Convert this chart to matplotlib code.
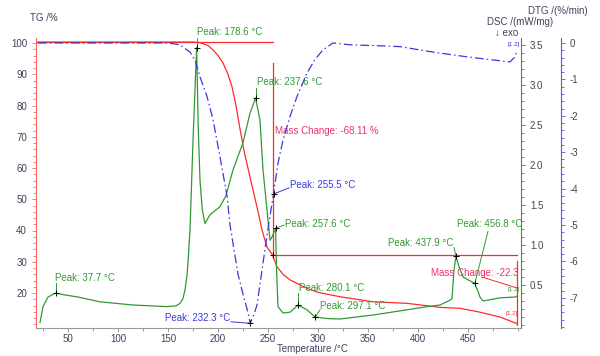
import numpy as np
import matplotlib
matplotlib.use('Agg')
import matplotlib.pyplot as plt
from matplotlib.ticker import MultipleLocator

plt.rcParams['font.family'] = ['Liberation Sans', 'DejaVu Sans']
plt.rcParams['axes.unicode_minus'] = False

# TG curve, mass in %
tg_temp = [20, 100, 175, 182, 190, 195, 200, 205, 210, 214, 218, 222, 226, 232, 239, 244, 249, 254,
           259, 265, 272, 289, 300, 322, 355, 389, 422, 442, 460, 482, 499]
tg_val = [100.3, 100.3, 100.3, 100.1, 99.2, 97.8, 96.0, 93.6, 90.0, 86.0, 80.0, 72.5, 65.5, 57.1, 47.5,
          40.2, 34.7, 32.5, 28.4, 26.0, 24.2, 21.5, 20.2, 18.8, 17.2, 16.7, 15.4, 15.1, 14.0, 12.3, 10.2]

# DSC curve, mW/mg
dsc_temp = [22, 25, 30, 37.7, 45, 60, 82, 115, 149, 158, 162, 165, 167, 169, 170, 172, 175, 178.6,
            180.3, 182, 184.3, 187, 192, 202, 208, 215, 225, 232, 237.6, 242, 245, 249, 252, 254,
            257.6, 258.5, 260, 265, 272, 280.1, 289, 297.1, 310, 322, 355, 389, 409, 422, 432, 434,
            436, 437.9, 441, 445, 456.8, 460, 462, 465, 482, 497, 499]
dsc_val = [0.03, 0.23, 0.35, 0.40, 0.38, 0.35, 0.29, 0.25, 0.23, 0.24, 0.27, 0.33, 0.44, 0.62, 0.78,
           1.19, 2.30, 3.47, 2.44, 1.81, 1.44, 1.27, 1.38, 1.48, 1.62, 1.94, 2.28, 2.65, 2.84, 2.56,
           1.94, 1.44, 1.06, 1.10, 1.21, 0.70, 0.23, 0.15, 0.16, 0.25, 0.19, 0.10, 0.08, 0.075, 0.125,
           0.19, 0.23, 0.25, 0.31, 0.33, 0.69, 0.86, 0.73, 0.60, 0.52, 0.42, 0.35, 0.30, 0.34, 0.35, 0.36]

# DTG curve, %/min
dtg_temp = [20, 100, 150, 162, 172, 177, 182, 189, 195, 202, 209, 212, 220, 225, 229, 232.3, 236, 239,
            245, 250, 255.5, 260, 265, 272, 279, 289, 297, 305, 315, 332, 365, 382, 415, 449, 470,
            492, 497, 499]
dtg_val = [0.0, 0.0, 0.0, -0.05, -0.25, -0.47, -0.93, -1.47, -2.1, -3.13, -4.2, -5.0, -6.35, -6.9,
           -7.3, -7.7, -7.45, -7.2, -6.05, -5.1, -4.15, -3.3, -2.67, -2.02, -1.47, -0.83, -0.45, -0.19,
           0.0, -0.05, -0.08, -0.1, -0.25, -0.38, -0.45, -0.52, -0.38, -0.19]

dsc_peaks = [37.7, 178.6, 237.6, 257.6, 280.1, 297.1, 437.9, 456.8]
dtg_peaks = [232.3, 255.5]
mass_steps = [255, 499]
mass_changes = [-68.11, -22.3]

red = '#ff2a2a'
red_txt = '#ee3366'
green = '#339933'
blue = '#3838e0'
lab = '#4a3c5e'

fig = plt.figure(figsize=(6, 3.56), dpi=100)
ax = fig.add_axes([36/600, 28/356, 485/600, 290/356])
ax2 = ax.twinx()
ax3 = ax.twinx()

ax.set_xlim(18, 503)
ax.set_ylim(8.8, 101.6)
ax2.set_ylim(-0.0375, 3.59)
ax3.set_ylim(-7.83, 0.137)

# curves
ax2.plot(dsc_temp, dsc_val, color=green, lw=0.9)
ax3.plot(dtg_temp, dtg_val, color=blue, lw=0.9, dashes=(7, 2.5, 1.2, 2.5))
ax.plot(tg_temp, tg_val, color=red, lw=0.9)

# mass change construction lines
top = tg_val[0]
lvl1 = top + mass_changes[0]
lvl2 = lvl1 + mass_changes[1]
ax.plot([18, mass_steps[0]], [top, top], color=red, lw=0.9)
ax.plot([mass_steps[0], mass_steps[0]], [93.5, lvl1], color=red, lw=0.9)
ax.plot([mass_steps[0], mass_steps[1]], [lvl1, lvl1], color=red, lw=0.9)
ax.plot([mass_steps[1], mass_steps[1]], [30.3, lvl2], color=red, lw=0.9)
ax.plot(mass_steps[0], lvl1, '+', color='k', ms=5, mew=0.7)
ax.text(257, 71.8, f'Mass Change: {mass_changes[0]} %', color=red_txt, fontsize=7, va='center')
ax.text(413, 26.4, f'Mass Change: {mass_changes[1]}', color=red_txt, fontsize=7, va='center')
ax.plot([464, 499], [25.1, 21.6], color=red, lw=0.7)

# DSC peak labels: text x, text y, alignment, leader end
green_pos = [(37, 0.59, 'left', 37.7, 0.525),
             (179, 3.66, 'left', 178.6, 3.62),
             (239, 3.04, 'left', 237.6, 2.97),
             (267, 1.26, 'left', 266, 1.25),
             (281, 0.46, 'left', 280.1, 0.40),
             (302, 0.24, 'left', 302, 0.19),
             (435, 1.02, 'right', 436, 0.97),
             (439, 1.26, 'left', 470, 1.17)]
for t, (tx, ty, ha, lx, ly) in zip(dsc_peaks, green_pos):
    y = np.interp(t, dsc_temp, dsc_val)
    ax2.plot([t, lx], [y, ly], color=green, lw=0.7)
    ax2.plot(t, y, '+', color='k', ms=5, mew=0.7)
    ax2.text(tx, ty, f'Peak: {t} °C', color=green, fontsize=7, ha=ha, va='center')

blue_pos = [(212, -7.55, 'right', 213, -7.66),
            (272, -3.9, 'left', 271, -3.98)]
for t, (tx, ty, ha, lx, ly) in zip(dtg_peaks, blue_pos):
    y = np.interp(t, dtg_temp, dtg_val)
    ax3.plot([t, lx], [y, ly], color=blue, lw=0.7)
    ax3.plot(t, y, '+', color='k', ms=5, mew=0.7)
    ax3.text(tx, ty, f'Peak: {t} °C', color=blue, fontsize=7, ha=ha, va='center')

# small segment tags
ax3.text(489, -0.03, '[1.2]', color=blue, fontsize=4.5, va='center')
ax2.text(489, 0.45, '[1.2]', color=green, fontsize=4.5, va='center')
ax.text(488, 13.6, '[1.2]', color=red, fontsize=4.5, va='center')

# spines and ticks
for a in (ax, ax2, ax3):
    for s in a.spines.values():
        s.set_visible(False)
ax.spines['left'].set_visible(True)
ax.spines['left'].set_color('#ff6666')
ax.spines['bottom'].set_visible(True)
ax.spines['bottom'].set_color('#999999')
ax2.spines['right'].set_visible(True)
ax2.spines['right'].set_color(green)
ax3.spines['right'].set_visible(True)
ax3.spines['right'].set_color('#5555ff')
ax3.spines['right'].set_position(('axes', 1 + 40/485))

ax.set_xticks(range(50, 451, 50))
ax.xaxis.set_minor_locator(MultipleLocator(25))
ax.set_yticks(range(20, 101, 10))
ax.yaxis.set_minor_locator(MultipleLocator(2))
ax2.set_yticks([0.5, 1.0, 1.5, 2.0, 2.5, 3.0, 3.5])
ax2.yaxis.set_minor_locator(MultipleLocator(0.1))
ax3.set_yticks(range(-7, 1))
ax3.yaxis.set_minor_locator(MultipleLocator(0.2))

ax.tick_params(axis='x', which='both', colors='#888888', labelcolor=lab, labelsize=7, length=3, width=0.6, pad=1.5)
ax.tick_params(axis='x', which='minor', length=2)
ax.tick_params(axis='y', which='both', colors='#ff6666', labelcolor=lab, labelsize=7, length=3, width=0.6)
ax.tick_params(axis='y', which='minor', length=2)
ax2.tick_params(axis='y', which='both', colors=green, labelcolor='#444444', labelsize=7, length=3, width=0.6)
ax2.tick_params(axis='y', which='minor', length=2)
ax3.tick_params(axis='y', which='both', colors='#5555ff', labelcolor='#444444', labelsize=7, length=3, width=0.6)
ax3.tick_params(axis='y', which='minor', length=2)
ax2.set_yticklabels(['0.5', '1.0', '1.5', '2.0', '2.5', '3.0', '3.5'])

# axis titles
fig.text(30/600, 1 - 18/356, 'TG /%', color=lab, fontsize=7, va='center')
fig.text(528/600, 1 - 11/356, 'DTG /(%/min)', color=lab, fontsize=7, va='center')
fig.text(487/600, 1 - 22/356, 'DSC /(mW/mg)', color=lab, fontsize=7, va='center')
fig.text(495/600, 1 - 33/356, '↓ exo', color=lab, fontsize=7, va='center')
fig.text(312/600, 1 - 349/356, 'Temperature /°C', color=lab, fontsize=7, va='center', ha='center')

fig.savefig('out.png', dpi=100)
